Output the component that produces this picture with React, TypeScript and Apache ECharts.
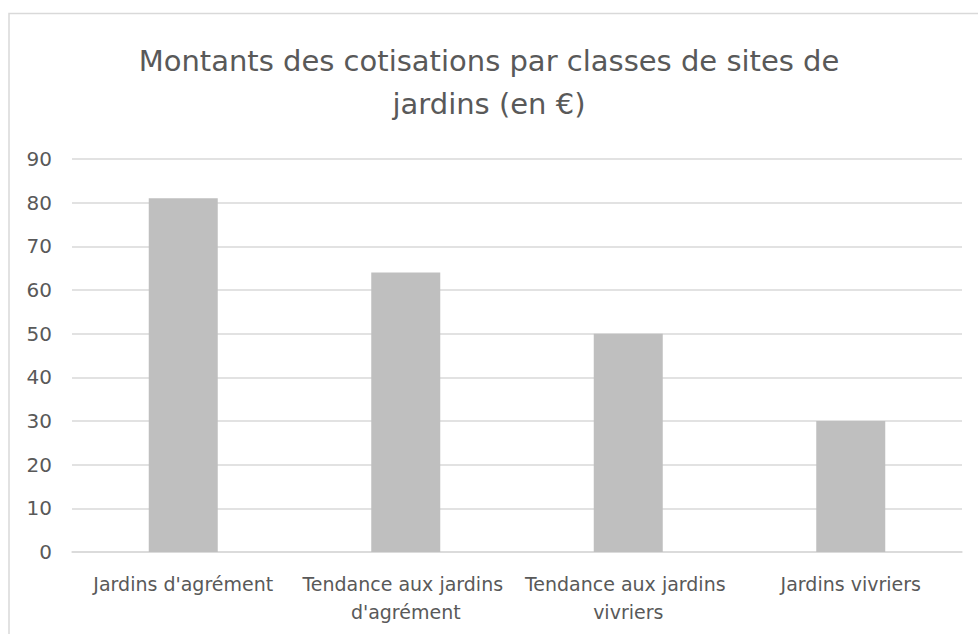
import React, { useEffect, useRef } from "react";
import * as echarts from "echarts";

const categories = [
  "Jardins d'agrément",
  "Tendance aux jardins d'agrément",
  "Tendance aux jardins vivriers",
  "Jardins vivriers",
];
const values = [81, 64, 50, 30];
const titleText = "Montants des cotisations par classes de sites de\njardins (en €)";

export default function App() {
  const ref = useRef<HTMLDivElement>(null);
  useEffect(() => {
    if (!ref.current) return;
    const chart = echarts.init(ref.current, null, { renderer: "svg" });
    const font = "'DejaVu Sans', sans-serif";
    chart.setOption({
      animation: false,
      backgroundColor: "#ffffff",
      graphic: [
        {
          type: "rect",
          shape: { x: 9, y: 13.5, width: 1000, height: 700 },
          style: { fill: "none", stroke: "#d9d9d9", lineWidth: 1.5 },
          silent: true,
        },
      ],
      title: {
        text: titleText,
        left: "center",
        top: 34,
        textStyle: {
          fontFamily: font,
          fontSize: 29,
          fontWeight: "normal",
          color: "#595959",
          lineHeight: 43,
          align: "center",
        },
      },
      grid: { left: 72, right: 16, top: 159, bottom: 82, containLabel: false },
      xAxis: {
        type: "category",
        data: categories,
        axisLine: { show: true, lineStyle: { color: "#d9d9d9", width: 1.5 } },
        axisTick: { show: false },
        axisLabel: {
          interval: 0,
          margin: 18,
          fontFamily: font,
          fontSize: 19,
          color: "#595959",
          lineHeight: 28,
          width: 215,
          overflow: "break",
          align: "center",
        },
      },
      yAxis: {
        type: "value",
        min: 0,
        max: 90,
        interval: 10,
        axisLine: { show: false },
        axisTick: { show: false },
        splitLine: { lineStyle: { color: "#d9d9d9", width: 1.5 } },
        axisLabel: {
          margin: 20,
          fontFamily: font,
          fontSize: 20,
          color: "#595959",
        },
      },
      series: [
        {
          type: "bar",
          data: values,
          barWidth: 69,
          itemStyle: { color: "#bfbfbf" },
        },
      ],
    });
    return () => chart.dispose();
  }, []);
  return (
    <div
      ref={ref}
      style={{ position: "absolute", left: 0, top: 0, width: 978, height: 634 }}
    />
  );
}
